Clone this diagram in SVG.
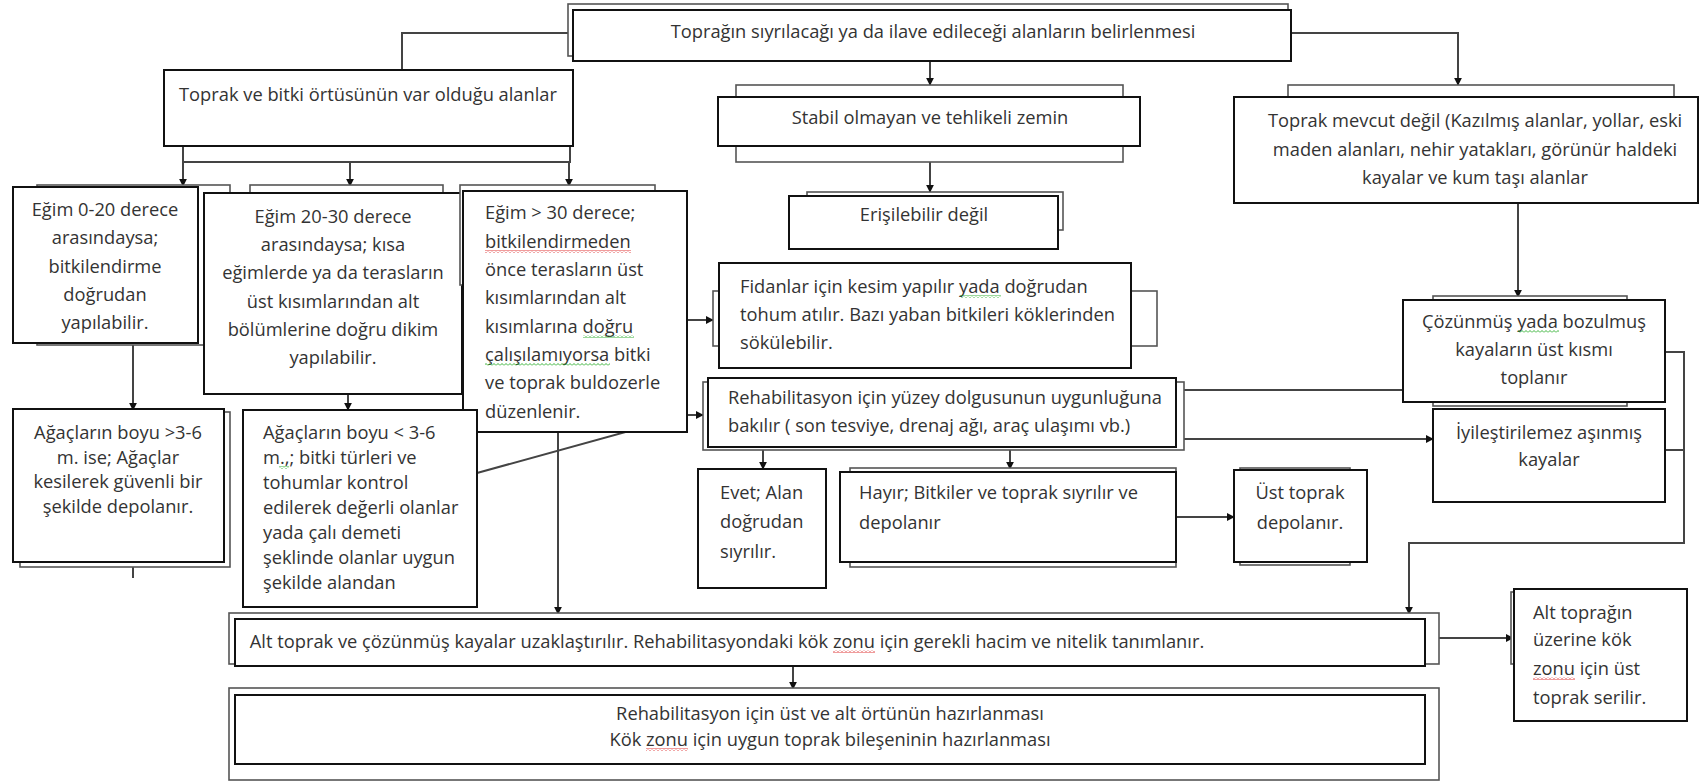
<svg xmlns="http://www.w3.org/2000/svg" width="1701" height="781" viewBox="0 0 1701 781">
<style>
.bg{fill:#fff}
.box{fill:#fff;stroke:#111;stroke-width:2}
.back{fill:#fff;stroke:#555;stroke-width:1.6}
.c{fill:none;stroke:#444;stroke-width:2}
.ca{fill:none;stroke:#444;stroke-width:2;marker-end:url(#ah)}
text{font-family:"Open Sans","Noto Sans","Liberation Sans",sans-serif;font-size:18.3px;fill:#333}
.m{text-anchor:middle}
.sr{fill:url(#wr)}
.sg{fill:url(#wg)}
</style>
<defs>
<marker id="ah" viewBox="0 0 10 10" refX="9" refY="5" markerWidth="8" markerHeight="8" markerUnits="userSpaceOnUse" orient="auto">
<path d="M0,0 L10,5 L0,10 z" fill="#111"/>
</marker>
<pattern id="wr" x="0" y="0" width="4" height="3" patternUnits="userSpaceOnUse"><polyline points="0,2.5 2,0.5 4,2.5" fill="none" stroke="#d22" stroke-width="0.9"/></pattern>
<pattern id="wg" x="0" y="0" width="4" height="3" patternUnits="userSpaceOnUse"><polyline points="0,2.5 2,0.5 4,2.5" fill="none" stroke="#2a2" stroke-width="0.9"/></pattern>
</defs>
<rect class="bg" x="0" y="0" width="1701" height="781"/>

<g id="connectors">
<polyline class="c" points="568,33 402,33 402,70"/>
<line class="ca" x1="930" y1="61" x2="930" y2="85"/>
<polyline class="ca" points="1291,33 1458,33 1458,85"/>
<polyline class="c" points="183,146 183,162 570,162 570,146"/>
<line class="ca" x1="183" y1="162" x2="183" y2="186"/>
<line class="ca" x1="350" y1="162" x2="350" y2="186"/>
<line class="ca" x1="569" y1="162" x2="569" y2="186"/>
<line class="ca" x1="930" y1="162" x2="930" y2="192"/>
<line class="ca" x1="133" y1="343" x2="133" y2="410"/>
<line class="c" x1="133" y1="567" x2="133" y2="578"/>
<line class="ca" x1="348" y1="394" x2="348" y2="410"/>
<line class="ca" x1="558" y1="432" x2="558" y2="614"/>
<line class="ca" x1="687" y1="320" x2="713" y2="320"/>
<polyline class="ca" points="477,473 687,415 703,415"/>
<line class="ca" x1="1518" y1="203" x2="1518" y2="297"/>
<line class="c" x1="1184" y1="390" x2="1403" y2="390"/>
<line class="ca" x1="1184" y1="439" x2="1433" y2="439"/>
<polyline class="c" points="1665,352 1684,352 1684,450 1665,450"/>
<polyline class="ca" points="1684,450 1684,543 1409,543 1409,614"/>
<line class="ca" x1="763" y1="449" x2="763" y2="469"/>
<line class="ca" x1="1010" y1="449" x2="1010" y2="469"/>
<line class="ca" x1="1176" y1="517" x2="1234" y2="517"/>
<line class="ca" x1="1439" y1="638" x2="1513" y2="638"/>
<line class="ca" x1="793" y1="666" x2="793" y2="689"/>
</g>

<g id="n-top">
<rect class="back" x="568" y="4" width="720" height="52"/>
<rect class="box" x="573" y="10" width="718" height="51"/>
<text class="m" x="933" y="38">Toprağın sıyrılacağı ya da ilave edileceği alanların belirlenmesi</text>
</g>

<g id="n-toprak-bitki">
<rect class="box" x="164" y="70" width="409" height="76"/>
<text class="m" x="368" y="101">Toprak ve bitki örtüsünün var olduğu alanlar</text>
</g>

<g id="n-stabil">
<rect class="back" x="736" y="85" width="387" height="77"/>
<rect class="box" x="718" y="97" width="422" height="49"/>
<text class="m" x="930" y="124">Stabil olmayan ve tehlikeli zemin</text>
</g>

<g id="n-erisilebilir">
<rect class="back" x="807" y="192" width="256" height="38"/>
<rect class="box" x="789" y="196" width="269" height="53"/>
<text class="m" x="924" y="221">Erişilebilir değil</text>
</g>

<g id="n-mevcut-degil">
<rect class="back" x="1288" y="85" width="386" height="50"/>
<rect class="box" x="1234" y="97" width="464" height="106"/>
<text class="m" x="1475" y="127">Toprak mevcut değil (Kazılmış alanlar, yollar, eski</text>
<text class="m" x="1475" y="156">maden alanları, nehir yatakları, görünür haldeki</text>
<text class="m" x="1475" y="184">kayalar ve kum taşı alanlar</text>
</g>

<g id="n-egim-0-20">
<rect class="back" x="37" y="185" width="193" height="160"/>
<rect class="box" x="13" y="187" width="185" height="156"/>
<text class="m" x="105" y="216">Eğim 0-20 derece</text>
<text class="m" x="105" y="244">arasındaysa;</text>
<text class="m" x="105" y="273">bitkilendirme</text>
<text class="m" x="105" y="301">doğrudan</text>
<text class="m" x="105" y="329">yapılabilir.</text>
</g>

<g id="n-egim-20-30">
<rect class="back" x="250" y="185" width="193" height="100"/>
<rect class="box" x="204" y="193" width="258" height="201"/>
<text class="m" x="333" y="223">Eğim 20-30 derece</text>
<text class="m" x="333" y="251">arasındaysa; kısa</text>
<text class="m" x="333" y="279">eğimlerde ya da terasların</text>
<text class="m" x="333" y="308">üst kısımlarından alt</text>
<text class="m" x="333" y="336">bölümlerine doğru dikim</text>
<text class="m" x="333" y="364">yapılabilir.</text>
</g>

<g id="n-egim-30">
<rect class="back" x="460" y="185" width="195" height="100"/>
<rect class="box" x="463" y="191" width="224" height="241"/>
<text x="485" y="219">Eğim &gt; 30 derece;</text>
<text x="485" y="248">bitkilendirmeden</text>
<text x="485" y="276">önce terasların üst</text>
<text x="485" y="304">kısımlarından alt</text>
<text x="485" y="333">kısımlarına doğru</text>
<text x="485" y="361">çalışılamıyorsa bitki</text>
<text x="485" y="389">ve toprak buldozerle</text>
<text x="485" y="418">düzenlenir.</text>
<rect class="sr" x="485" y="250" width="146" height="3"/>
<rect class="sg" x="583" y="335" width="51" height="3"/>
<rect class="sg" x="485" y="363" width="125" height="3"/>
</g>

<g id="n-agac-buyuk">
<rect class="back" x="20" y="412" width="210" height="155"/>
<rect class="box" x="13" y="409" width="211" height="153"/>
<text class="m" x="118" y="439">Ağaçların boyu &gt;3-6</text>
<text class="m" x="118" y="464">m. ise; Ağaçlar</text>
<text class="m" x="118" y="488">kesilerek güvenli bir</text>
<text class="m" x="118" y="513">şekilde depolanır.</text>
</g>

<g id="n-agac-kucuk">
<rect class="box" x="243" y="410" width="234" height="197"/>
<text x="263" y="439">Ağaçların boyu &lt; 3-6</text>
<text x="263" y="464">m.,; bitki türleri ve</text>
<text x="263" y="489">tohumlar kontrol</text>
<text x="263" y="514">edilerek değerli olanlar</text>
<text x="263" y="539">yada çalı demeti</text>
<text x="263" y="564">şeklinde olanlar uygun</text>
<text x="263" y="589">şekilde alandan</text>
<rect class="sg" x="279" y="466" width="10" height="3"/>
</g>

<g id="n-fidanlar">
<rect class="back" x="713" y="291" width="444" height="55"/>
<rect class="box" x="719" y="263" width="412" height="105"/>
<text x="740" y="293">Fidanlar için kesim yapılır yada doğrudan</text>
<text x="740" y="321">tohum atılır. Bazı yaban bitkileri köklerinden</text>
<text x="740" y="349">sökülebilir.</text>
<rect class="sg" x="960" y="295" width="41" height="3"/>
</g>

<g id="n-rehab">
<rect class="back" x="703" y="382" width="481" height="68"/>
<rect class="box" x="708" y="378" width="468" height="69"/>
<text x="728" y="404">Rehabilitasyon için yüzey dolgusunun uygunluğuna</text>
<text x="728" y="432">bakılır ( son tesviye, drenaj ağı, araç ulaşımı vb.)</text>
</g>

<g id="n-cozunmus">
<rect class="back" x="1433" y="296" width="194" height="110"/>
<rect class="box" x="1403" y="300" width="262" height="102"/>
<text class="m" x="1534" y="328">Çözünmüş yada bozulmuş</text>
<text class="m" x="1534" y="356">kayaların üst kısmı</text>
<text class="m" x="1534" y="384">toplanır</text>
<rect class="sg" x="1518" y="330" width="41" height="3"/>
</g>

<g id="n-iyilestirilemez">
<rect class="box" x="1433" y="409" width="232" height="93"/>
<text class="m" x="1549" y="439">İyileştirilemez aşınmış</text>
<text class="m" x="1549" y="466">kayalar</text>
</g>

<g id="n-evet">
<rect class="box" x="698" y="469" width="128" height="119"/>
<text x="720" y="499">Evet; Alan</text>
<text x="720" y="528">doğrudan</text>
<text x="720" y="558">sıyrılır.</text>
</g>

<g id="n-hayir">
<rect class="back" x="850" y="468" width="326" height="99"/>
<rect class="box" x="840" y="472" width="336" height="90"/>
<text x="859" y="499">Hayır; Bitkiler ve toprak sıyrılır ve</text>
<text x="859" y="529">depolanır</text>
</g>

<g id="n-ust-toprak">
<rect class="back" x="1240" y="468" width="110" height="97"/>
<rect class="box" x="1234" y="470" width="133" height="92"/>
<text class="m" x="1300" y="499">Üst toprak</text>
<text class="m" x="1300" y="529">depolanır.</text>
</g>

<g id="n-alt-toprak">
<rect class="back" x="229" y="613" width="1210" height="51"/>
<rect class="box" x="235" y="619" width="1190" height="47"/>
<text class="m" x="727" y="648">Alt toprak ve çözünmüş kayalar uzaklaştırılır. Rehabilitasyondaki kök zonu için gerekli hacim ve nitelik tanımlanır.</text>
<rect class="sr" x="833" y="650" width="42" height="3"/>
</g>

<g id="n-alt-topragin">
<rect class="back" x="1511" y="592" width="150" height="72"/>
<rect class="box" x="1514" y="589" width="173" height="132"/>
<text x="1533" y="619">Alt toprağın</text>
<text x="1533" y="646">üzerine kök</text>
<text x="1533" y="675">zonu için üst</text>
<text x="1533" y="704">toprak serilir.</text>
<rect class="sr" x="1533" y="677" width="42" height="3"/>
</g>

<g id="n-hazirlama">
<rect class="back" x="229" y="688" width="1210" height="92"/>
<rect class="box" x="235" y="695" width="1190" height="69"/>
<text class="m" x="830" y="720">Rehabilitasyon için üst ve alt örtünün hazırlanması</text>
<text class="m" x="830" y="746">Kök zonu için uygun toprak bileşeninin hazırlanması</text>
<rect class="sr" x="646" y="748" width="42" height="3"/>
</g>
</svg>
